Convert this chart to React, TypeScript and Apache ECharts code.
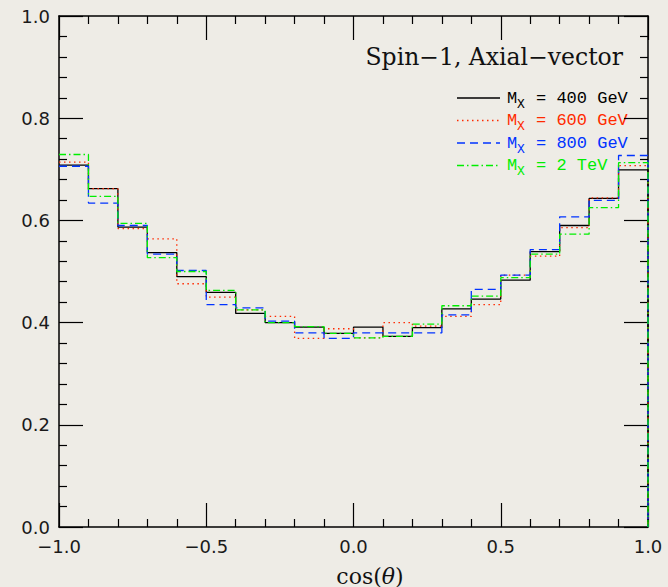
import React, { useEffect, useRef } from "react";
import * as echarts from "echarts";

const binLow = [-1.0, -0.9, -0.8, -0.7, -0.6, -0.5, -0.4, -0.3, -0.2, -0.1, 0.0, 0.1, 0.2, 0.3, 0.4, 0.5, 0.6, 0.7, 0.8, 0.9];
const binWidth = 0.1;

const m400 = [0.708, 0.662, 0.587, 0.537, 0.490, 0.459, 0.418, 0.400, 0.391, 0.379, 0.391, 0.373, 0.390, 0.427, 0.446, 0.483, 0.539, 0.590, 0.643, 0.699];
const m600 = [0.714, 0.662, 0.584, 0.564, 0.476, 0.450, 0.425, 0.412, 0.369, 0.388, 0.370, 0.400, 0.393, 0.412, 0.435, 0.493, 0.530, 0.586, 0.644, 0.707];
const m800 = [0.706, 0.634, 0.590, 0.534, 0.502, 0.435, 0.429, 0.403, 0.380, 0.369, 0.380, 0.380, 0.380, 0.415, 0.465, 0.493, 0.543, 0.607, 0.639, 0.727];
const m2000 = [0.729, 0.647, 0.594, 0.527, 0.500, 0.463, 0.425, 0.400, 0.392, 0.379, 0.370, 0.373, 0.397, 0.433, 0.452, 0.488, 0.534, 0.573, 0.625, 0.713];

const seriesNames = ["400 GeV", "600 GeV", "800 GeV", "2 TeV"];
const xTicks = [-1.0, -0.5, 0.0, 0.5, 1.0];
const yTicks = [0.0, 0.2, 0.4, 0.6, 0.8, 1.0];

function histPoints(vals: number[]) {
  const pts: number[][] = [];
  vals.forEach((v, i) => {
    pts.push([binLow[i], v]);
    pts.push([binLow[i] + binWidth, v]);
  });
  pts.push([binLow[binLow.length - 1] + binWidth, 0]);
  return pts;
}

const fmt = (v: number) => (v < 0 ? "\u2212" + Math.abs(v).toFixed(1) : v.toFixed(1));

export default function App() {
  const ref = useRef<HTMLDivElement>(null);
  useEffect(() => {
    if (!ref.current) return;
    const chart = echarts.init(ref.current, null, { renderer: "svg" });
    const styles = [
      { color: "#000000", type: "solid" as any },
      { color: "#ff2a00", type: [1.5, 3.5] as any },
      { color: "#0033ff", type: [8, 5] as any },
      { color: "#00ee00", type: [7, 3, 1.5, 3] as any },
    ];
    const data = [m400, m600, m800, m2000];
    const legendY = [98, 120.5, 143, 165.5];
    const legendGraphics: any[] = [];
    seriesNames.forEach((n, i) => {
      legendGraphics.push({
        type: "line",
        shape: { x1: 457, y1: legendY[i], x2: 500, y2: legendY[i] },
        style: { stroke: styles[i].color, lineWidth: 1.3, lineDash: i === 0 ? null : styles[i].type },
      });
      legendGraphics.push({
        type: "text",
        x: 507,
        y: legendY[i],
        style: { text: "M", fill: styles[i].color, font: "17px 'Liberation Mono'", verticalAlign: "middle" },
      });
      legendGraphics.push({
        type: "text",
        x: 517,
        y: legendY[i] + 6,
        style: { text: "X", fill: styles[i].color, font: "13px 'Liberation Mono'", verticalAlign: "middle" },
      });
      legendGraphics.push({
        type: "text",
        x: 536,
        y: legendY[i],
        style: { text: "= " + n, fill: styles[i].color, font: "17px 'Liberation Mono'", verticalAlign: "middle" },
      });
    });

    const axisCommon = {
      type: "value",
      axisLine: { show: true, onZero: false, lineStyle: { color: "#000", width: 1.5 } },
      axisTick: { show: true, inside: true, length: 24, lineStyle: { color: "#000", width: 1.2 } },
      minorTick: { show: true, splitNumber: 5, length: 8, lineStyle: { color: "#000", width: 1.2 } },
      splitLine: { show: false },
    };

    chart.setOption({
      animation: false,
      backgroundColor: "#eeece6",
      grid: { left: 59, right: 20, top: 16, bottom: 60 },
      xAxis: [
        {
          ...axisCommon,
          position: "bottom",
          min: -1,
          max: 1,
          interval: 0.5,
          axisLabel: {
            show: true,
            margin: 10,
            formatter: fmt,
            color: "#1a1a1a",
            fontFamily: "DejaVu Sans",
            fontSize: 18,
            showMinLabel: true,
            showMaxLabel: true,
          },
        },
        {
          ...axisCommon,
          position: "top",
          min: -1,
          max: 1,
          interval: 0.5,
          axisLabel: { show: false },
        },
      ],
      yAxis: [
        {
          ...axisCommon,
          position: "left",
          min: 0,
          max: 1,
          interval: 0.2,
          axisLabel: {
            show: true,
            margin: 9,
            formatter: (v: number) => v.toFixed(1),
            color: "#1a1a1a",
            fontFamily: "DejaVu Sans",
            fontSize: 18,
            showMinLabel: true,
            showMaxLabel: true,
          },
        },
        {
          ...axisCommon,
          position: "right",
          min: 0,
          max: 1,
          interval: 0.2,
          axisLabel: { show: false },
        },
      ],
      series: data.map((vals, i) => ({
        type: "line",
        name: seriesNames[i],
        data: histPoints(vals),
        showSymbol: false,
        symbol: "none",
        clip: false,
        silent: true,
        lineStyle: { color: styles[i].color, width: 1.3, type: styles[i].type },
        z: 3 + i,
      })),
      graphic: [
        {
          type: "text",
          x: 623,
          y: 57,
          style: {
            text: "Spin\u22121, Axial\u2212vector",
            fill: "#111",
            font: "23.5px 'DejaVu Serif'",
            align: "right",
            verticalAlign: "middle",
          },
        },
        {
          type: "text",
          x: 370,
          y: 576,
          style: {
            text: "{n|cos(}{t|\u03b8}{n|)}",
            align: "center",
            verticalAlign: "middle",
            rich: {
              n: { fontFamily: "DejaVu Serif", fontSize: 22, fill: "#111", color: "#111" },
              t: { fontFamily: "DejaVu Serif", fontStyle: "italic", fontSize: 22, fill: "#111", color: "#111" },
            },
          },
        },
        ...legendGraphics,
      ],
    });
    return () => chart.dispose();
  }, []);
  return (
    <div
      ref={ref}
      style={{ position: "absolute", left: 0, top: 0, width: 668, height: 587 }}
    />
  );
}
